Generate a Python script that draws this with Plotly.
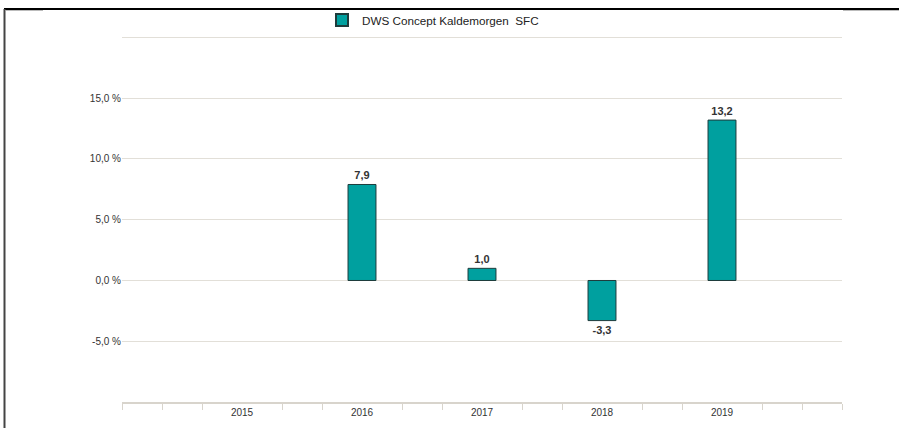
import plotly.graph_objects as go

years = [2015, 2016, 2017, 2018, 2019]
returns = [None, 7.9, 1.0, -3.3, 13.2]
series_name = "DWS Concept Kaldemorgen  SFC"
y_ticks = [-5, 0, 5, 10, 15, 20]

W, H = 899, 428
L, R, T, B = 122, 57, 36, 26
pw, ph = W - L - R, H - T - B

def px_x(p):
    return (p - L) / pw

def px_y(p):
    return (H - B - p) / ph

minor_vals = [2014 + k / 3 for k in range(19) if not (k % 3 == 0 and 3 <= k <= 15)]

fig = go.Figure()
fig.add_trace(go.Bar(
    x=years, y=returns, name=series_name, width=0.233,
    marker=dict(color="#00A09F", line=dict(color="#1E3C3C", width=1)),
    texttemplate="%{y:.1f}", textposition="outside", cliponaxis=False,
    textfont=dict(family="Liberation Sans", size=11, color="#333333", weight="bold"),
    showlegend=True,
))

fig.update_layout(
    width=W, height=H,
    margin=dict(l=L, r=R, t=T, b=B, autoexpand=False),
    paper_bgcolor="white", plot_bgcolor="white",
    separators=",.",
    font=dict(family="Liberation Sans", size=10, color="#333333"),
    showlegend=True,
    legend=dict(orientation="h", x=px_x(322), xanchor="left", y=px_y(20), yanchor="middle",
                bgcolor="rgba(0,0,0,0)", itemwidth=30,
                font=dict(size=11.7, color="#222222"), itemsizing="constant"),
    xaxis=dict(range=[2014, 2020], tickvals=years, ticktext=[str(y) for y in years],
               showgrid=False, zeroline=False, showline=True, linecolor="#D8D4CC", linewidth=2,
               ticks="", tickfont=dict(size=10, color="#333333"),
               minor=dict(tickmode="array", tickvals=minor_vals, ticks="outside", ticklen=6,
                          tickcolor="#D8D4CC", tickwidth=1, showgrid=False)),
    yaxis=dict(range=[-10, 20.12], tickvals=y_ticks, ticktext=[("%.1f %%" % v).replace(".", ",") if v < 20 else "" for v in y_ticks],
               showgrid=True, gridcolor="#E2DFD8", gridwidth=1, zeroline=False, showline=False,
               ticks="", tickfont=dict(size=10, color="#333333")),
    shapes=[
        dict(type="line", xref="paper", yref="paper", x0=px_x(4), x1=px_x(899), y0=px_y(9), y1=px_y(9),
             line=dict(color="#000000", width=2)),
        dict(type="line", xref="paper", yref="paper", x0=px_x(4.5), x1=px_x(4.5), y0=px_y(9), y1=px_y(428),
             line=dict(color="#444444", width=2)),
        dict(type="line", xref="paper", yref="paper", x0=px_x(6), x1=px_x(43), y0=px_y(10.5), y1=px_y(10.5),
             line=dict(color="#BBBBBB", width=1)),
        dict(type="line", xref="paper", yref="paper", x0=px_x(843), x1=px_x(899), y0=px_y(10.5), y1=px_y(10.5),
             line=dict(color="#BBBBBB", width=1)),
    ],
)

fig.write_html("out.html", config={"displayModeBar": False},
               post_script="document.body.style.margin='0';document.body.style.padding='0';")
